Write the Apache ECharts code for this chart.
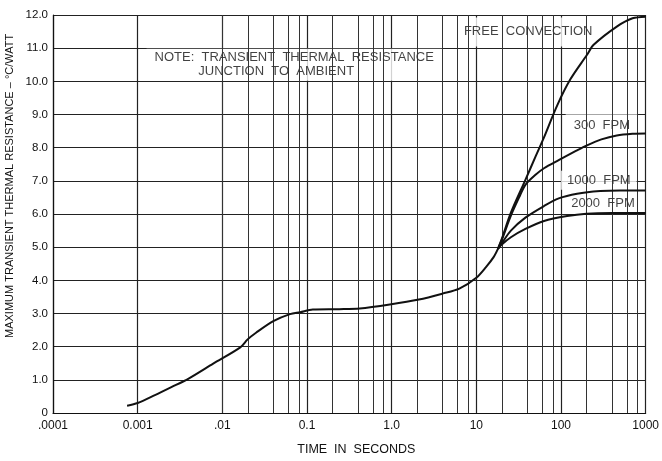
<!DOCTYPE html>
<html>
<head>
<meta charset="utf-8">
<script src="https://cdn.jsdelivr.net/npm/echarts@6/dist/echarts.min.js"></script>
<style>
html,body{margin:0;padding:0;background:#fff;}
#chart{width:662px;height:461px;}
</style>
</head>
<body>
<div id="chart"></div>
<script>
// ---- data ----
const xTickLabels = ['.0001', '0.001', '.01', '0.1', '1.0', '10', '100', '1000'];
const yTickLabels = ['0', '1.0', '2.0', '3.0', '4.0', '5.0', '6.0', '7.0', '8.0', '9.0', '10.0', '11.0', '12.0'];

// common part of the curve (before the branches split)
const commonTime = [0.00075, 0.001, 0.0016, 0.0025, 0.004, 0.0078, 0.0163, 0.0199, 0.025, 0.04, 0.063, 0.083, 0.117, 0.24, 0.42, 0.95, 2.1, 4.0, 6.3, 10, 13, 16, 18];
const commonR    = [0.22, 0.30, 0.54, 0.78, 1.04, 1.49, 1.98, 2.22, 2.42, 2.77, 2.98, 3.04, 3.12, 3.13, 3.15, 3.27, 3.42, 3.60, 3.75, 4.08, 4.40, 4.70, 4.95];

const freeTime = [18, 20, 25.6, 38, 50, 63, 90, 129, 203, 243, 456, 700, 1000];
const freeR    = [4.95, 5.25, 6.04, 7.03, 7.73, 8.31, 9.27, 10.06, 10.8, 11.1, 11.65, 11.9, 11.95];

const fpm300Time = [18, 20, 25.6, 32, 38, 50, 63, 95, 150, 203, 300, 456, 700, 1000];
const fpm300R    = [4.95, 5.22, 5.95, 6.5, 6.88, 7.18, 7.38, 7.63, 7.9, 8.07, 8.25, 8.37, 8.42, 8.43];

const fpm1000Time = [18, 20, 25.6, 38, 63, 94, 155, 290, 500, 1000];
const fpm1000R    = [4.95, 5.12, 5.5, 5.89, 6.24, 6.47, 6.61, 6.69, 6.71, 6.71];

const fpm2000Time = [18, 20, 25.6, 38, 63, 118, 200, 400, 1000];
const fpm2000R    = [4.95, 5.08, 5.3, 5.55, 5.79, 5.94, 6.01, 6.03, 6.03];

const annotTexts = ['NOTE', 'FREE  CONVECTION', '300  FPM', '1000  FPM', '2000  FPM'];
const annotTime  = [0.0706, 41, 304, 280, 313];
const annotR     = [10.5, 11.49, 8.66, 7.02, 6.31];

// minor vertical gridlines at 2,4,6,8 of each decade
const minorMultipliers = [2, 4, 6, 8];
const decadeStarts = [0.0001, 0.001, 0.01, 0.1, 1, 10, 100];

// ---- build ----
function pairs(t, r) { return t.map((v, i) => [v, r[i]]); }
const minorGrid = [];
decadeStarts.forEach(d => minorMultipliers.forEach(m => minorGrid.push({ xAxis: +(d * m).toPrecision(3) })));

const font = 'Liberation Sans, Arial, sans-serif';
const ink = '#111';
const curveStyle = { color: '#111', width: 2 };

const chart = echarts.init(document.getElementById('chart'), null, { renderer: 'canvas' });

const lineSeries = (name, t, r) => ({
  name, type: 'line', data: pairs(t, r), showSymbol: false, symbol: 'none',
  smooth: 0.3, lineStyle: curveStyle, z: 5, silent: true, animation: false
});

const labelPads = {
  'NOTE': [2, 8, 2, 8],
  'FREE  CONVECTION': [8, 6, 8, 6],
  '300  FPM': [5, 8, 5, 8],
  '1000  FPM': [3, 6, 3, 6],
  '2000  FPM': [2, 6, 2, 6]
};

chart.setOption({
  animation: false,
  backgroundColor: '#fff',
  grid: { left: 53, right: 13, top: 15, bottom: 43, show: false },
  xAxis: {
    type: 'log', logBase: 10, min: 0.0001, max: 1000,
    name: 'TIME  IN  SECONDS', nameLocation: 'middle', nameGap: 30,
    nameTextStyle: { fontFamily: font, fontSize: 12.5, color: ink, padding: [0, 0, 0, 14] },
    axisLine: { show: true, lineStyle: { color: ink, width: 1.2 } },
    axisTick: { show: false },
    axisLabel: {
      fontFamily: font, fontSize: 12, color: ink, margin: 7,
      formatter: v => xTickLabels[Math.round(Math.log10(v)) + 4]
    },
    splitLine: { show: true, lineStyle: { color: '#222', width: 1.2 } }
  },
  yAxis: {
    type: 'value', min: 0, max: 12, interval: 1,
    axisLine: { show: true, lineStyle: { color: ink, width: 1.2 } },
    axisTick: { show: false },
    axisLabel: {
      fontFamily: font, fontSize: 11.5, color: ink, margin: 5,
      formatter: v => yTickLabels[Math.round(v)]
    },
    splitLine: { show: true, lineStyle: { color: '#222', width: 1.2 } }
  },
  graphic: [{
    type: 'text',
    style: {
      text: 'MAXIMUM TRANSIENT THERMAL RESISTANCE – °C/WATT',
      font: '11px ' + font, fill: ink
    },
    rotation: Math.PI / 2,
    x: 4, y: 338
  }],
  series: [
    {
      name: 'grid', type: 'line', data: [], silent: true, z: 1,
      markLine: {
        silent: true, symbol: 'none', animation: false,
        label: { show: false },
        lineStyle: { color: '#333', width: 1, type: 'solid' },
        data: minorGrid
      }
    },
    lineSeries('common', commonTime, commonR),
    lineSeries('FREE CONVECTION', freeTime, freeR),
    lineSeries('300 FPM', fpm300Time, fpm300R),
    lineSeries('1000 FPM', fpm1000Time, fpm1000R),
    lineSeries('2000 FPM', fpm2000Time, fpm2000R),
    {
      name: 'labels', type: 'scatter', symbolSize: 0, z: 4, silent: true,
      data: annotTexts.map((s, i) => ({
        value: [annotTime[i], annotR[i]], name: s,
        label: { padding: labelPads[s] }
      })),
      label: {
        show: true, position: 'inside', color: ink, fontFamily: font, fontSize: 13,
        backgroundColor: '#fff',
        formatter: p => p.name === 'NOTE'
          ? '{a|NOTE:  TRANSIENT  THERMAL  RESISTANCE}\n{b|JUNCTION  TO  AMBIENT}'
          : p.name,
        rich: {
          a: { fontFamily: font, fontSize: 13, color: ink, lineHeight: 14 },
          b: { fontFamily: font, fontSize: 13, color: ink, lineHeight: 14, padding: [0, 36, 0, 0] }
        }
      }
    }
  ]
});
</script>
</body>
</html>
